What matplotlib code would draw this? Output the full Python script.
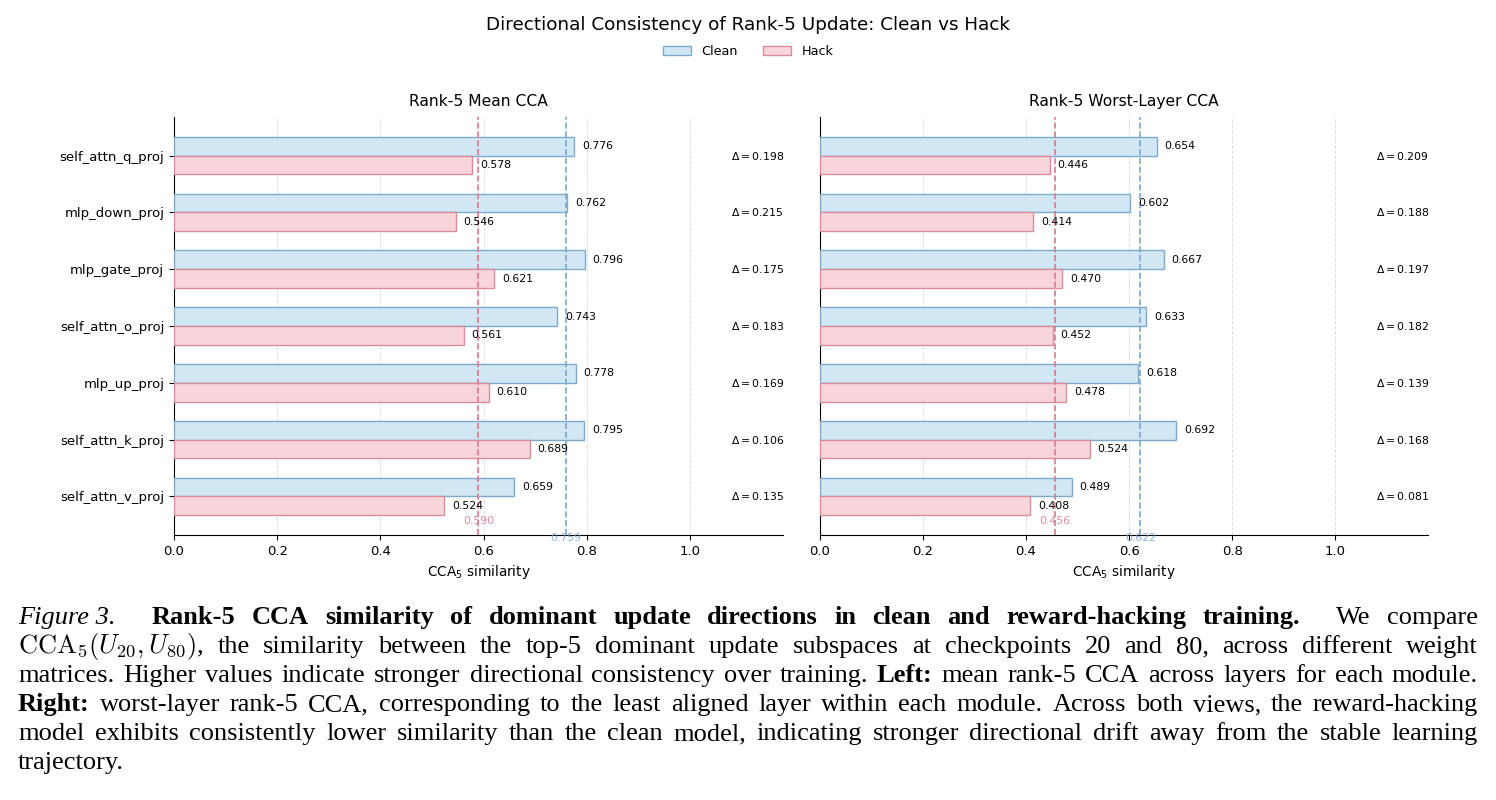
import numpy as np
import matplotlib
matplotlib.use("Agg")
import matplotlib.pyplot as plt
import matplotlib.transforms as mtransforms
from matplotlib.patches import Patch

plt.rcParams['font.family'] = ['DejaVu Sans']

# module names, top to bottom
modules = ['self_attn_q_proj', 'mlp_down_proj', 'mlp_gate_proj', 'self_attn_o_proj',
           'mlp_up_proj', 'self_attn_k_proj', 'self_attn_v_proj']

# rank-5 mean CCA across layers
mean_clean = [0.776, 0.762, 0.796, 0.743, 0.778, 0.795, 0.659]
mean_hack = [0.578, 0.546, 0.621, 0.561, 0.610, 0.689, 0.524]
mean_delta = [0.198, 0.215, 0.175, 0.183, 0.169, 0.106, 0.135]
mean_avg = {'clean': 0.759, 'hack': 0.590}

# rank-5 worst-layer CCA
worst_clean = [0.654, 0.602, 0.667, 0.633, 0.618, 0.692, 0.489]
worst_hack = [0.446, 0.414, 0.470, 0.452, 0.478, 0.524, 0.408]
worst_delta = [0.209, 0.188, 0.197, 0.182, 0.139, 0.168, 0.081]
worst_avg = {'clean': 0.622, 'hack': 0.456}

CLEAN_FACE = '#d1e7f3'
CLEAN_EDGE = '#7eaacd'
HACK_FACE = '#f7d5db'
HACK_EDGE = '#d98c9c'
CLEAN_LINE = '#7aa7cf'
HACK_LINE = '#dc7890'

fig = plt.figure(figsize=(14.96, 8), dpi=100)
ax_l = fig.add_axes([0.1163, 0.33125, 0.4071, 0.5225])
ax_r = fig.add_axes([0.5481, 0.33125, 0.4064, 0.5225])


def draw_panel(ax, clean, hack, delta, avg, title, show_labels=True):
    y = np.arange(len(modules))
    h = 0.33
    ax.barh(y - h / 2, clean, height=h, color=CLEAN_FACE, edgecolor=CLEAN_EDGE, linewidth=1.0, zorder=3)
    ax.barh(y + h / 2, hack, height=h, color=HACK_FACE, edgecolor=HACK_EDGE, linewidth=1.0, zorder=3)

    for i in range(len(modules)):
        ax.text(clean[i] + 0.015, y[i] - h / 2, f"{clean[i]:.3f}", va='center', ha='left', fontsize=7.8, zorder=5)
        ax.text(hack[i] + 0.015, y[i] + h / 2, f"{hack[i]:.3f}", va='center', ha='left', fontsize=7.8, zorder=5)
        ax.text(1.13, y[i], f"$\\Delta = {delta[i]:.3f}$", va='center', ha='center', fontsize=7.8)

    # average lines
    trans = mtransforms.blended_transform_factory(ax.transData, ax.transAxes)
    ax.axvline(avg['clean'], color=CLEAN_LINE, linestyle='--', linewidth=1.2, zorder=4)
    ax.axvline(avg['hack'], color=HACK_LINE, linestyle='--', linewidth=1.2, zorder=4)
    ax.text(avg['hack'], 0.033, f"{avg['hack']:.3f}", transform=trans, ha='center', va='center',
            fontsize=7.8, color=HACK_LINE, alpha=0.85)
    ax.text(avg['clean'], -0.007, f"{avg['clean']:.3f}", transform=trans, ha='center', va='center',
            fontsize=7.8, color=CLEAN_LINE, alpha=0.85)

    ax.set_xlim(0, 1.18)
    ax.set_ylim(len(modules) - 1 + 0.68, -0.68)
    ax.set_xticks([0.0, 0.2, 0.4, 0.6, 0.8, 1.0])
    ax.set_yticks(y)
    if show_labels:
        ax.set_yticklabels(modules, fontsize=9.5)
    else:
        ax.set_yticklabels([])
        ax.tick_params(axis='y', length=0)
    ax.tick_params(axis='x', labelsize=9.5)
    ax.grid(axis='x', linestyle='--', color='#dddddd', linewidth=0.7, zorder=0)
    ax.set_axisbelow(True)
    ax.spines['top'].set_visible(False)
    ax.spines['right'].set_visible(False)
    ax.set_xlabel("CCA$_5$ similarity", fontsize=9.8)
    ax.set_title(title, fontsize=11.2, pad=8)


draw_panel(ax_l, mean_clean, mean_hack, mean_delta, mean_avg, "Rank-5 Mean CCA")
draw_panel(ax_r, worst_clean, worst_hack, worst_delta, worst_avg, "Rank-5 Worst-Layer CCA", show_labels=False)

fig.suptitle("Directional Consistency of Rank-5 Update: Clean vs Hack", fontsize=13.2, y=0.98)
handles = [Patch(facecolor=CLEAN_FACE, edgecolor=CLEAN_EDGE, label='Clean'),
           Patch(facecolor=HACK_FACE, edgecolor=HACK_EDGE, label='Hack')]
fig.legend(handles=handles, loc='center', bbox_to_anchor=(0.5, 0.936), ncol=2, frameon=False,
           fontsize=9.2, handlelength=2.2, columnspacing=2.0)

# caption, justified line by line
caption = [
    ([("Figure 3.", 'i', 2.2)] +
     [(w, 'b', 1) for w in "Rank-5 CCA similarity of dominant update directions in clean and reward-hacking".split()] +
     [("training.", 'b', 2.2)] +
     [(w, 'r', 1) for w in "We compare".split()], True),
    ([(r"$\mathrm{CCA}_5(U_{20},U_{80})$,", 'm', 1)] +
     [(w, 'r', 1) for w in "the similarity between the top-5 dominant update subspaces at checkpoints 20 and 80, across different weight".split()], True),
    ([(w, 'r', 1) for w in "matrices. Higher values indicate stronger directional consistency over training.".split()] +
     [("Left:", 'b', 1)] +
     [(w, 'r', 1) for w in "mean rank-5 CCA across layers for each module.".split()], True),
    ([("Right:", 'b', 1)] +
     [(w, 'r', 1) for w in "worst-layer rank-5 CCA, corresponding to the least aligned layer within each module. Across both views, the reward-hacking".split()], True),
    ([(w, 'r', 1) for w in "model exhibits consistently lower similarity than the clean model, indicating stronger directional drift away from the stable learning".split()], True),
    ([(w, 'r', 1) for w in "trajectory.".split()], False),
]

renderer = fig.canvas.get_renderer()
cap_size = 19
x_left, x_right = 18 / 1496, 1478 / 1496
baselines = [624, 653, 682, 711, 740, 769]
for (words, justify), base in zip(caption, baselines):
    yb = 1 - base / 800
    texts = []
    for w, st, g in words:
        kw = dict(fontsize=cap_size, family=['Liberation Serif'], va='baseline', ha='left')
        if st == 'i':
            kw['style'] = 'italic'
        elif st == 'b':
            kw['weight'] = 'bold'
        elif st == 'm':
            kw['math_fontfamily'] = 'cm'
        texts.append((fig.text(0, yb, w, **kw), g))
    widths = [t.get_window_extent(renderer).width / fig.bbox.width for t, _ in texts]
    gap_w = [g for _, g in texts[:-1]]
    if justify and len(texts) > 1:
        unit = (x_right - x_left - sum(widths)) / sum(gap_w)
    else:
        unit = 6.0 / 1496
    x = x_left
    for (t, g), wd in zip(texts, widths):
        t.set_x(x)
        x += wd + g * unit

fig.savefig("out.png", dpi=100)
